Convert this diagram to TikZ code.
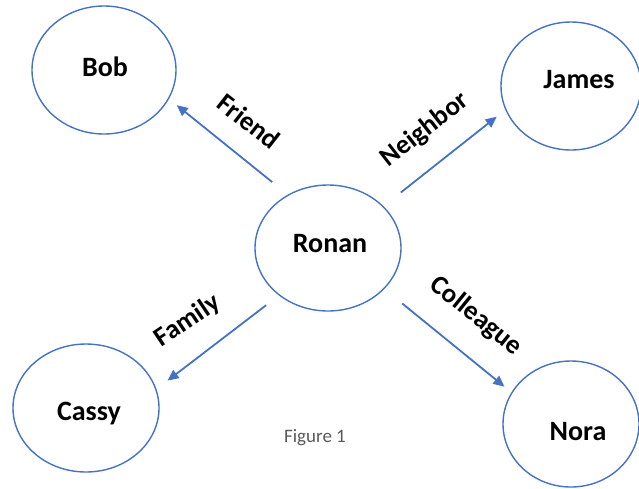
\documentclass[tikz,border=0pt]{standalone}
\usepackage{fontspec}
\setmainfont{Carlito}
\usetikzlibrary{arrows.meta,shapes.geometric}
\definecolor{accblue}{HTML}{4472C4}
\definecolor{capgray}{HTML}{595959}
\tikzset{
  person/.style={draw=accblue, line width=1.4pt, ellipse, inner sep=0pt},
  pname/.style={font=\fontsize{28}{32}\selectfont\bfseries, text=black},
  rel/.style={font=\fontsize{27}{31}\selectfont\bfseries, text=black, inner sep=0pt},
  arr/.style={draw=accblue, line width=1.8pt, -{Triangle[length=11pt,width=10pt]}},
}
\begin{document}
\begin{tikzpicture}[x=1pt,y=-1pt]
\useasboundingbox (0,0) rectangle (639,488);
% ellipses
\node[person, minimum width=144pt, minimum height=128pt] (Bob) at (104,70) {};
\node[person, minimum width=140pt, minimum height=128pt] (James) at (571,86) {};
\node[person, minimum width=146pt, minimum height=126pt] (Ronan) at (328,248) {};
\node[person, minimum width=146pt, minimum height=128pt] (Cassy) at (86,408) {};
\node[person, minimum width=136pt, minimum height=126pt] (Nora) at (571,424) {};
% names
\node[pname] (tBob) at (105,67) {Bob};
\node[pname] (tJames) at (579,80) {James};
\node[pname] (tRonan) at (330,244) {Ronan};
\node[pname] (tCassy) at (89,414) {Cassy};
\node[pname] (tNora) at (578,432) {Nora};
% arrows
\draw[arr, shorten <=20pt, shorten >=10pt] (Ronan.127) -- (Bob.-24);
\draw[arr, shorten <=22pt, shorten >=11pt] (Ronan.37) -- (James.200);
\draw[arr, shorten <=16pt, shorten >=14pt] (Ronan.224) -- (Cassy.15);
\draw[arr, shorten <=23pt, shorten >=9pt] (Ronan.-36) -- (Nora.152);
% relation labels
\node[rel, rotate=-38] (lFriend) at (249,121) {Friend};
\node[rel, rotate=38] (lNeighbor) at (425,130) {Neighbor};
\node[rel, rotate=34] (lFamily) at (188,321) {Family};
\node[rel, rotate=-39] (lColleague) at (476,316) {Colleague};
% caption
\node[font=\fontsize{19}{23}\selectfont, text=capgray] (cap) at (315,438) {Figure 1};
\end{tikzpicture}
\end{document}
